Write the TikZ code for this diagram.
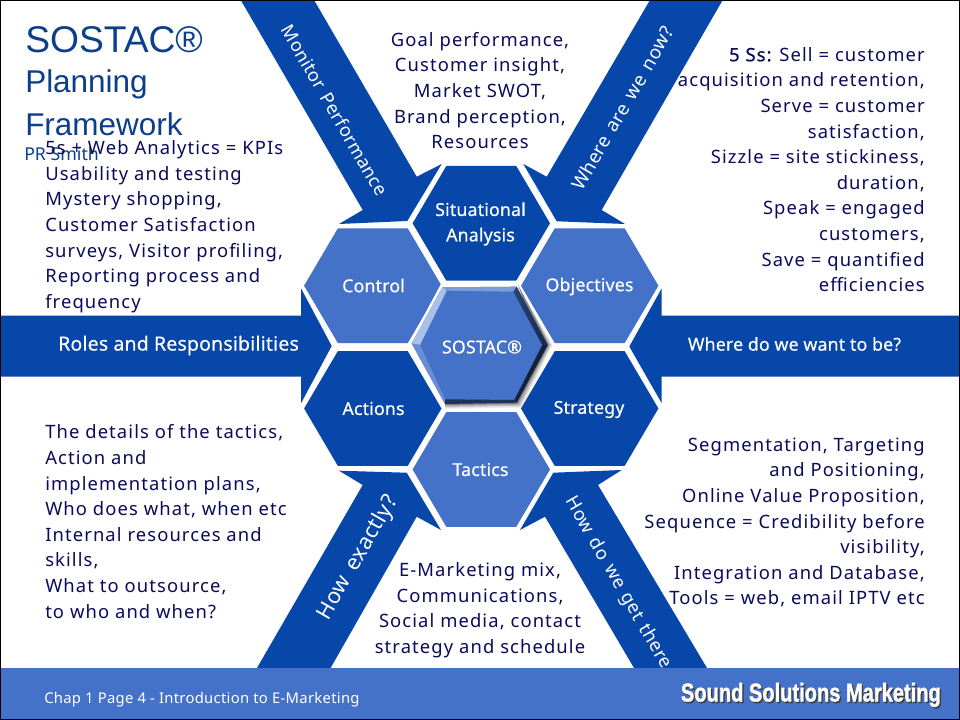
\documentclass[tikz,border=0pt]{standalone}
\usepackage{fontspec}
\setmainfont{Noto Sans}
\newfontfamily\titlefont{Liberation Sans}
\usetikzlibrary{calc}
\definecolor{deepblue}{HTML}{0747A9}
\definecolor{midblue}{HTML}{4472C8}
\definecolor{inkblue}{HTML}{0B0B5C}
\definecolor{titleblue}{HTML}{0B3F8C}
\newcommand{\hexpath}[2]{(#1-68.7,#2) -- (#1-35,#2-57.3) -- (#1+35,#2-57.3) -- (#1+68.7,#2) -- (#1+35,#2+57.3) -- (#1-35,#2+57.3) -- cycle}
\newcommand{\bodyfont}{\fontsize{13.8}{19.2}\selectfont\addfontfeatures{LetterSpace=6}}
\newcommand{\bandfont}[1]{\fontsize{#1}{16}\selectfont\addfontfeatures{LetterSpace=2}\spaceskip=0.42em\relax}
\tikzset{
 x=0.75pt,y=-0.75pt,
 band/.style={fill=deepblue,draw=none},
 darkhex/.style={fill=deepblue,draw=none},
 lighthex/.style={fill=midblue,draw=none},
 hexlabel/.style={text=white,align=center,inner sep=0,font=\fontsize{13.3}{18}\selectfont\addfontfeatures{LetterSpace=1,FakeBold=0.5}},
 bandlabel/.style={text=white,inner sep=0},
 bodytext/.style={text=inkblue,inner sep=0,font=\bodyfont},
}
\begin{document}
\begin{tikzpicture}
\useasboundingbox (0,0) rectangle (960,720);
\fill[white] (0,0) rectangle (960,720);
% bands
\fill[band] (240.7,0) -- (314,0) -- (416.7,176.7) -- (441.7,164) -- (407.3,221) -- (339,224) -- (362.7,210) -- cycle;
\fill[band] (650,0) -- (722.7,0) -- (601.7,210) -- (625,224) -- (556.7,221.3) -- (523.3,164) -- (546.7,176.7) -- cycle;
\fill[band] (339,470.7) -- (406.7,472.7) -- (441,530) -- (416.7,516.7) -- (330.6,668) -- (257,668) -- (362.7,485) -- cycle;
\fill[band] (621.7,470) -- (553.3,472.7) -- (520,530) -- (545,516.7) -- (634,668) -- (707,668) -- (598,485) -- cycle;
\fill[band] (0,315.5) -- (301,315.5) -- (301,288.3) -- (331.7,346) -- (301,403.3) -- (301,376.5) -- (0,376.5) -- cycle;
\fill[band] (960,315.5) -- (661.7,315.5) -- (661.7,288.3) -- (629.3,346.5) -- (661.7,403.3) -- (661.7,376.5) -- (960,376.5) -- cycle;
% hexagons
\fill[darkhex] \hexpath{481.3}{223.3};
\fill[lighthex] \hexpath{372.8}{285.7};
\fill[lighthex] \hexpath{589.7}{285.7};
\fill[darkhex] \hexpath{372.8}{408.5};
\fill[darkhex] \hexpath{589.7}{408.5};
\fill[lighthex] \hexpath{481.3}{469.5};
% centre hexagon: white ring, soft shadow, bevel, face
\fill[white] (408,345) -- (441,284) -- (519,284) -- (553,345) -- (519,407) -- (441,407) -- cycle;
\foreach \o/\g in {5/0.06,4/0.08,3/0.12,2/0.16,1/0.2}{
 \fill[black,opacity=\g] (518,285) -- (547.7+\o,345) -- (516.7+\o,402.7+\o) -- (445,404+\o) -- (445,400) -- (513,398) -- (540,345) -- cycle;
}
\fill[midblue] (411.7,343.5) -- (442.3,287.3) -- (516.7,286.7) -- (547.7,345) -- (516.7,402.7) -- (445,404) -- cycle;
% bevel strips
\fill[midblue!70!white] (442.3,287.3) -- (516.7,286.7) -- (513.3,291.7) -- (446.7,290.7) -- cycle;
\fill[midblue!45!white] (411.7,343.5) -- (442.3,287.3) -- (446.7,290.7) -- (420,345) -- cycle;
\fill[midblue!80!white] (411.7,343.5) -- (420,345) -- (445,399.3) -- (445,404) -- cycle;
\shade[left color=midblue!60!black,right color=midblue!35!black] (516.7,286.7) -- (547.7,345) -- (542.3,345) -- (513.3,291.7) -- cycle;
\fill[midblue!30!black] (547.7,345) -- (516.7,402.7) -- (514.3,400) -- (542.3,345) -- cycle;
\fill[midblue!45!black] (516.7,402.7) -- (445,404) -- (445,399.3) -- (514.3,400) -- cycle;
% labels on hexagons
\node[hexlabel] (situ) at (480.5,224) {Situational\\[1pt]Analysis};
\node[hexlabel] (ctrl) at (373.5,285.5) {Control};
\node[hexlabel] (obj) at (589.5,286.5) {Objectives};
\node[hexlabel] (act) at (373.5,408.5) {Actions};
\node[hexlabel] (strat) at (589,409.5) {Strategy};
\node[hexlabel] (tact) at (480.5,469.5) {Tactics};
\node[hexlabel] (core) at (482,347) {SOSTAC®};
% band labels
\node[bandlabel,rotate=-60,font=\bandfont{13.7}] (mon) at (335,110) {Monitor Performance};
\node[bandlabel,rotate=60,font=\bandfont{14.1}] (now) at (622.5,108) {Where are we now?};
\node[bandlabel,rotate=60,font=\bandfont{16.3}] (how) at (358,558) {How exactly?};
\node[bandlabel,rotate=-60,font=\bandfont{13.8}] (get) at (618,583) {How do we get there};
\node[bandlabel,font=\fontsize{14.6}{16}\selectfont\addfontfeatures{LetterSpace=1,FakeBold=0.3}] (roles) at (178.5,345.5) {Roles and Responsibilities};
\node[bandlabel,font=\fontsize{13.3}{16}\selectfont\addfontfeatures{LetterSpace=1,FakeBold=0.3}] (want) at (794.5,344) {Where do we want to be?};
% title
\node[anchor=base west,inner sep=0,text=titleblue,font=\titlefont\fontsize{27.9}{30}\selectfont] (t1) at (25,52.5) {SOSTAC®};
\node[anchor=base west,inner sep=0,text=titleblue,font=\titlefont\fontsize{23.6}{30}\selectfont] (t2) at (25,92.5) {Planning};
\node[anchor=base west,inner sep=0,text=titleblue,font=\titlefont\fontsize{23.6}{30}\selectfont] (t3) at (25,136) {Framework};
\node[anchor=base west,inner sep=0,text=titleblue,font=\fontsize{13.3}{15}\selectfont] (t4) at (24,160.5) {PR Smith};
% body
\node[bodytext,anchor=north west,align=left] (tl) at (45,140.5) {5s + Web Analytics = KPIs\\Usability and testing\\Mystery shopping,\\Customer Satisfaction\\surveys, Visitor profiling,\\Reporting process and\\frequency};
\node[bodytext,anchor=north,align=center] (tc) at (480,32) {Goal performance,\\Customer insight,\\Market SWOT,\\Brand perception,\\Resources};
\node[bodytext,anchor=north east,align=right] (tr) at (925,47) {{\addfontfeatures{FakeBold=0.7,LetterSpace=6}5 Ss:} Sell = customer\\acquisition and retention,\\Serve = customer\\satisfaction,\\Sizzle = site stickiness,\\duration,\\Speak = engaged\\customers,\\Save = quantified\\efficiencies};
\node[bodytext,anchor=north east,align=right] (br) at (925,437.5) {Segmentation, Targeting\\and Positioning,\\Online Value Proposition,\\Sequence = Credibility before\\visibility,\\Integration and Database,\\Tools = web, email IPTV etc};
\node[bodytext,anchor=north west,align=left] (bl) at (45,424.5) {The details of the tactics,\\Action and\\implementation plans,\\Who does what, when etc\\Internal resources and\\skills,\\What to outsource,\\to who and when?};
\node[bodytext,anchor=north,align=center] (bc) at (480,562.5) {E-Marketing mix,\\Communications,\\Social media, contact\\strategy and schedule};
% footer
\fill[midblue] (0,668) rectangle (960,720);
\node[anchor=base west,inner sep=0,text=white,font=\fontsize{11.1}{13}\selectfont\addfontfeatures{LetterSpace=2}] (chap) at (44,703) {Chap 1 Page 4 - Introduction to E-Marketing};
\node[anchor=base east,inner sep=0,text=black!75,xscale=0.78,font=\titlefont\bfseries\fontsize{19.3}{20}\selectfont\addfontfeatures{FakeBold=1.5}] (logos) at (942.5,703) {Sound Solutions Marketing};
\node[anchor=base east,inner sep=0,text=white,xscale=0.78,font=\titlefont\bfseries\fontsize{19.3}{20}\selectfont\addfontfeatures{FakeBold=1.5}] (logo) at (941,701.5) {Sound Solutions Marketing};
\draw[black,line width=1.5pt] (0,0) rectangle (960,720);
\end{tikzpicture}
\end{document}
